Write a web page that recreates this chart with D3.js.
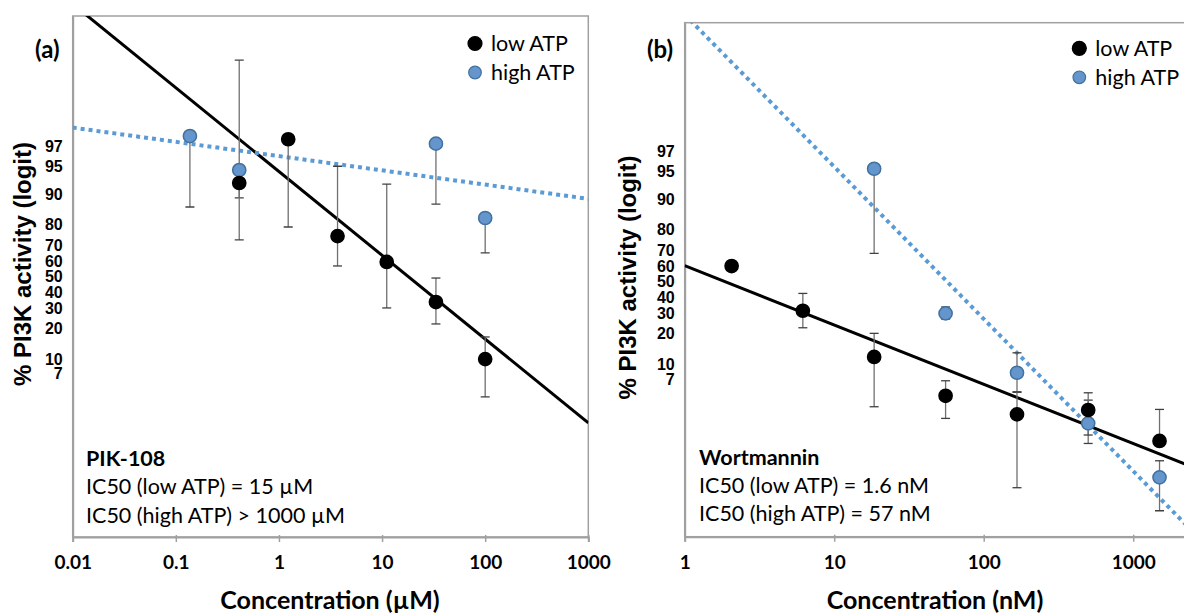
<!DOCTYPE html>
<html>
<head>
<meta charset="utf-8">
<script src="https://cdn.jsdelivr.net/npm/d3@7"></script>
<style>
  body { margin: 0; background: #fff; }
  text { fill: #000; }
</style>
</head>
<body>
<svg id="chart" width="1184" height="614"></svg>
<script>
// ---- data (percent activity) ----
// panel (a) PIK-108, concentration in uM
var concA = [0.137, 0.412, 1.23, 3.70, 11.1, 33.3, 100];
var lowA = [null, 92.4, 97.5, 74.7, 59.7, 33.7, 10.0];
var lowAHi = [null, 99.69, null, 95.0, 92.2, 49.1, 16.7];
var lowALo = [null, 72.7, 79.0, 57.1, 30.3, 22.1, 3.9];
var highA = [97.7, 94.5, null, null, null, 97.2, 82.7];
var highAHi = [null, null, null, null, null, null, null];
var highALo = [86.5, 89.1, null, null, null, 87.4, 65.3];
// fitted lines: [IC50, hill]
var fitLowA = [18, 0.97];
var fitHighA = [2.9e8, 0.165];

// panel (b) Wortmannin, concentration in nM
var concB = [2.06, 6.17, 18.5, 55.6, 167, 500, 1500];
var lowB = [60.3, 31.6, 11.9, 4.58, 2.84, 3.18, 1.42];
var lowBHi = [null, 42.3, 20.2, 6.68, 5.07, 4.94, 3.23];
var lowBLo = [null, 22.7, 3.46, 2.56, 0.413, 1.66, null];
var highB = [null, null, 95.3, 30.1, 8.14, 2.25, 0.544];
var highBHi = [null, null, null, 33.8, 13.1, 4.1, 0.843];
var highBLo = [null, null, 68.1, 27.0, 5.0, 1.33, 0.224];
var fitLowB = [1.87, 0.686];
var fitHighB = [57, 1.76];

// axis labels
var yLabels = [97, 95, 90, 80, 70, 60, 50, 40, 30, 20, 10, 7];
var xLabelsA = [0.01, 0.1, 1, 10, 100, 1000];
var xLabelsB = [1, 10, 100, 1000];
var seriesNames = ["low ATP", "high ATP"];

function logit(p) { p = p / 100; return Math.log(p / (1 - p)); }

var svg = d3.select("#chart");
var blue = "#5b9bd5";

function drawPanel(p) {
  var x = d3.scaleLog().domain(p.xDomain).range([p.left, p.right]);
  var y = d3.scaleLinear().domain(p.yDomain).range([p.bottom, p.top]);
  var g = svg.append("g");

  g.append("clipPath").attr("id", "clip" + p.id)
    .append("rect")
    .attr("x", p.left).attr("y", p.top)
    .attr("width", p.right - p.left).attr("height", p.bottom - p.top);

  // frame
  g.append("rect")
    .attr("x", p.left).attr("y", p.top)
    .attr("width", p.right - p.left).attr("height", p.bottom - p.top)
    .attr("fill", "none").attr("stroke", "#a0a0a0").attr("stroke-width", 1.5);

  // x axis
  var xa = g.append("g").attr("transform", "translate(0," + p.bottom + ")")
    .call(d3.axisBottom(x).tickValues(p.xLabels).tickSize(5).tickPadding(14)
      .tickFormat(function (d) { return String(d); }));
  xa.select(".domain").attr("stroke", "#a0a0a0").attr("stroke-width", 2);
  xa.selectAll(".tick line").attr("stroke", "#a0a0a0").attr("stroke-width", 1.5).attr("y1", -2);
  xa.selectAll(".tick text").attr("font-family", "Lato").attr("font-weight", "bold")
    .attr("font-size", 19).attr("fill", "#000");

  // y axis (logit)
  var ya = g.append("g").attr("transform", "translate(" + p.left + ",0)")
    .call(d3.axisLeft(y).tickValues(yLabels.map(logit)).tickSize(0).tickPadding(10)
      .tickFormat(function (d, i) { return yLabels[i]; }));
  ya.select(".domain").attr("stroke", "#a0a0a0").attr("stroke-width", 2);
  ya.selectAll(".tick text").attr("font-family", "Liberation Sans").attr("font-weight", "bold")
    .attr("font-size", 16).attr("fill", "#000");

  var plot = g.append("g").attr("clip-path", "url(#clip" + p.id + ")");

  // fit lines
  var fitLine = function (fit) {
    return function (c) { return fit[1] * Math.LN10 * (Math.log10(fit[0]) - Math.log10(c)); };
  };
  var line = d3.line().x(function (d) { return x(d[0]); }).y(function (d) { return y(d[1]); });
  [[p.fitLow, "#000", null, 3], [p.fitHigh, blue, "4 4", 4]].forEach(function (f) {
    var fn = fitLine(f[0]);
    plot.append("path")
      .attr("d", line(p.xDomain.map(function (c) { return [c, fn(c)]; })))
      .attr("fill", "none").attr("stroke", f[1]).attr("stroke-width", f[3])
      .attr("stroke-dasharray", f[2]);
  });

  // error bars
  var series = [
    { v: p.high, hi: p.highHi, lo: p.highLo },
    { v: p.low, hi: p.lowHi, lo: p.lowLo }
  ];
  series.forEach(function (s) {
    p.conc.forEach(function (c, i) {
      if (s.v[i] == null) return;
      var cx = x(c);
      [s.hi[i], s.lo[i]].forEach(function (e) {
        if (e == null) return;
        plot.append("line").attr("x1", cx).attr("x2", cx)
          .attr("y1", y(logit(s.v[i]))).attr("y2", y(logit(e)))
          .attr("stroke", "#707070").attr("stroke-width", 1.3);
        plot.append("line").attr("x1", cx - 4.5).attr("x2", cx + 4.5)
          .attr("y1", y(logit(e))).attr("y2", y(logit(e)))
          .attr("stroke", "#404040").attr("stroke-width", 1.3);
      });
    });
  });

  // points
  var pts = [
    { v: p.high, fill: "#6495cd", stroke: "#41719c" },
    { v: p.low, fill: "#000", stroke: "#000" }
  ];
  pts.forEach(function (s) {
    plot.selectAll(null)
      .data(p.conc.map(function (c, i) { return [c, s.v[i]]; }).filter(function (d) { return d[1] != null; }))
      .enter().append("circle")
      .attr("cx", function (d) { return x(d[0]); })
      .attr("cy", function (d) { return y(logit(d[1])); })
      .attr("r", 6.6)
      .attr("fill", s.fill).attr("stroke", s.stroke).attr("stroke-width", 1.5);
  });

  // legend
  var lg = g.append("g").attr("transform", "translate(" + p.legend[0] + "," + p.legend[1] + ")");
  seriesNames.forEach(function (n, i) {
    lg.append("circle").attr("cx", 0).attr("cy", i * 29)
      .attr("r", i == 0 ? 7 : 6.3)
      .attr("fill", i == 0 ? "#000" : "#6495cd")
      .attr("stroke", i == 0 ? "#000" : "#41719c").attr("stroke-width", 1.2);
    lg.append("text").attr("x", 16).attr("y", i * 29 + 7.5)
      .attr("font-family", "Lato").attr("font-size", 21.5).text(n);
  });

  // panel letter
  g.append("text").attr("x", p.letter[0]).attr("y", p.letter[1])
    .attr("font-family", "Lato").attr("font-weight", "bold").attr("font-size", 24)
    .text(p.name);

  // note
  var nt = g.append("text").attr("font-family", "Lato").attr("font-size", 21.5);
  p.note.forEach(function (t, i) {
    nt.append("tspan").attr("x", p.notePos[0]).attr("y", p.notePos[1] + i * 28.4)
      .attr("font-weight", i == 0 ? "bold" : "normal").text(t);
  });

  // axis titles
  g.append("text").attr("x", p.xTitle[0]).attr("y", p.xTitle[1])
    .attr("text-anchor", "middle").attr("font-family", "Lato").attr("font-weight", "bold")
    .attr("font-size", 25).text(p.xTitleText);
  g.append("text")
    .attr("transform", "translate(" + p.yTitle[0] + "," + p.yTitle[1] + ") rotate(-90)")
    .attr("text-anchor", "middle").attr("font-family", "Liberation Sans").attr("font-weight", "bold")
    .attr("font-size", 24).text("% PI3K activity (logit)");
}

drawPanel({
  id: "a", name: "(a)", left: 72.7, right: 588.3, top: 16, bottom: 537,
  xDomain: [0.01, 1000], yDomain: [-6.94, 6.95], xLabels: xLabelsA,
  conc: concA, low: lowA, lowHi: lowAHi, lowLo: lowALo,
  high: highA, highHi: highAHi, highLo: highALo,
  fitLow: fitLowA, fitHigh: fitHighA,
  legend: [475, 43.5], letter: [35, 58],
  note: ["PIK-108", "IC50 (low ATP) = 15 \u00b5M", "IC50 (high ATP) > 1000 \u00b5M"],
  notePos: [86, 466],
  xTitle: [330, 609], xTitleText: "Concentration (\u00b5M)",
  yTitle: [31, 264]
});

drawPanel({
  id: "b", name: "(b)", left: 684.7, right: 1282.7, top: 22.7, bottom: 536.7,
  xDomain: [1, 10000], yDomain: [-6.79, 6.90], xLabels: xLabelsB,
  conc: concB, low: lowB, lowHi: lowBHi, lowLo: lowBLo,
  high: highB, highHi: highBHi, highLo: highBLo,
  fitLow: fitLowB, fitHigh: fitHighB,
  legend: [1079.3, 48.3], letter: [647, 58],
  note: ["Wortmannin", "IC50 (low ATP) = 1.6 nM", "IC50 (high ATP) = 57 nM"],
  notePos: [699, 464.5],
  xTitle: [935, 609], xTitleText: "Concentration (nM)",
  yTitle: [636, 277.5]
});
</script>
</body>
</html>
